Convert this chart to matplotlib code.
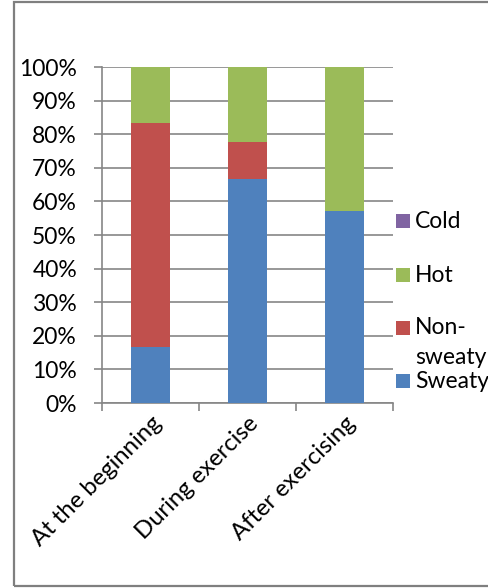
import matplotlib.pyplot as plt
import numpy as np
from matplotlib.patches import Rectangle

categories = ["At the beginning", "During exercise", "After exercising"]
series_names = ["Sweaty", "Non-sweaty", "Hot", "Cold"]
sweaty = [16.7, 66.7, 57.1]
non_sweaty = [66.6, 11.1, 0.0]
hot = [16.7, 22.2, 42.9]
cold = [0.0, 0.0, 0.0]
colors = ["#4F81BD", "#C0504D", "#9BBB59", "#8064A2"]
yticks = [0, 10, 20, 30, 40, 50, 60, 70, 80, 90, 100]

plt.rcParams["font.family"] = ["Lato", "DejaVu Sans"]
FS = 16.5
W, H = 489, 588
fig = plt.figure(figsize=(W / 100, H / 100), dpi=100)
ax = fig.add_axes([102 / W, 1 - 403 / H, (393 - 102) / W, (403 - 67) / H])

grid_color = "#868686"
x = np.arange(len(categories))
bottom = np.zeros(len(categories))
for vals, color in zip([sweaty, non_sweaty, hot, cold], colors):
    ax.bar(x, vals, width=0.4, bottom=bottom, color=color, zorder=3)
    bottom += np.asarray(vals)

ax.set_xlim(-0.5, len(categories) - 0.5)
ax.set_ylim(0, 100)
ax.set_yticks(yticks)
ax.set_yticklabels([f"{v}%" for v in yticks], fontsize=FS)
ax.yaxis.grid(True, color=grid_color, linewidth=1.2, zorder=0)
ax.tick_params(axis="y", length=6, width=1.2, color=grid_color, pad=12)

ax.set_xticks(x)
ax.set_xticklabels(categories, rotation=45, ha="right", va="top",
                   rotation_mode="anchor", fontsize=17.2)
ax.tick_params(axis="x", which="major", length=0, pad=7)
ax.set_xticks(np.arange(-0.5, len(categories)), minor=True)
ax.tick_params(axis="x", which="minor", length=6, width=1.2, color=grid_color)

for side in ["top", "right"]:
    ax.spines[side].set_visible(False)
for side in ["left", "bottom"]:
    ax.spines[side].set_color(grid_color)
    ax.spines[side].set_linewidth(1.2)

# legend, top entry first, drawn in figure pixels
legend_rows = [("Cold", 221), ("Hot", 275), ("Non-\nsweaty", 328), ("Sweaty", 381)]
legend_colors = {"Cold": colors[3], "Hot": colors[2], "Non-\nsweaty": colors[1], "Sweaty": colors[0]}
for label, yc in legend_rows:
    fig.patches.append(Rectangle((396 / W, 1 - (yc + 7) / H), 14 / W, 14 / H,
                                 transform=fig.transFigure, facecolor=legend_colors[label],
                                 edgecolor="none"))
    fig.text(415 / W, 1 - yc / H, label.split("\n")[0], fontsize=FS, va="center", ha="left")
    if "\n" in label:
        fig.text(415 / W, 1 - (yc + 29) / H, label.split("\n")[1], fontsize=FS,
                 va="center", ha="left")

# outer chart frame
fig.patches.append(Rectangle((14 / W, 1 - 586 / H), 1.1, (586 - 2) / H,
                             transform=fig.transFigure, facecolor="none",
                             edgecolor="#7f7f7f", linewidth=1.6, clip_on=False))

fig.savefig("out.png", dpi=100)
